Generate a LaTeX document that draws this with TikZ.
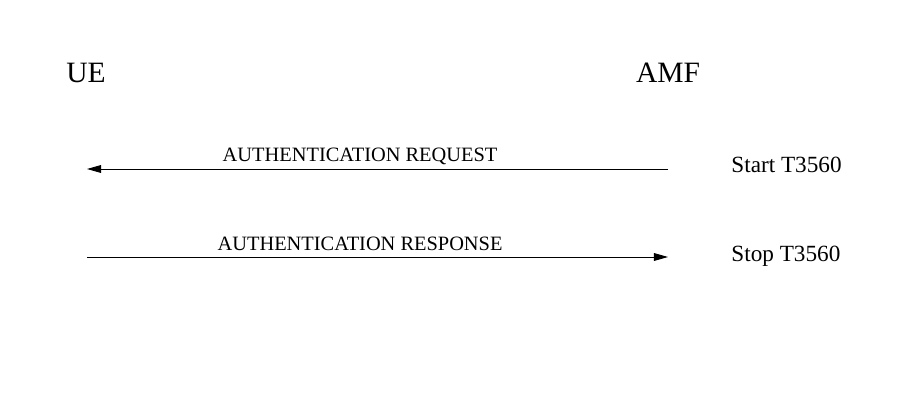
\documentclass[tikz,border=0pt]{standalone}
\usepackage{fontspec}
\setmainfont{Liberation Serif}
\usetikzlibrary{arrows.meta}

\begin{document}
\begin{tikzpicture}[x=0.025cm, y=-0.025cm, line width=0.6pt,
	arrows={-Triangle[length=10pt,width=5.5pt]},
	entity/.style={anchor=base, inner sep=0pt, font=\fontsize{21}{24}\selectfont},
	msg/.style={above, inner sep=3pt, font=\fontsize{14.5}{17}\selectfont},
	timer/.style={anchor=base west, inner sep=0pt, font=\fontsize{16.5}{19}\selectfont}]
	\useasboundingbox (0,0) rectangle (907,414);
	\node[entity] (UE) at (86,82) {UE};
	\node[entity] (AMF) at (668,82) {AMF};
	\coordinate (UE1) at (87,169);
	\coordinate (AMF1) at (668,169);
	\coordinate (UE2) at (87,257);
	\coordinate (AMF2) at (668,257);
	\draw (AMF1) to node [msg, pos=0.53] {AUTHENTICATION REQUEST} (UE1);
	\draw (UE2) to node [msg, pos=0.47, yshift=1.5pt] {AUTHENTICATION RESPONSE} (AMF2);
	\node[timer] (T1) at (731,172) {Start T3560};
	\node[timer] (T2) at (731,261) {Stop T3560};
\end{tikzpicture}
\end{document}
